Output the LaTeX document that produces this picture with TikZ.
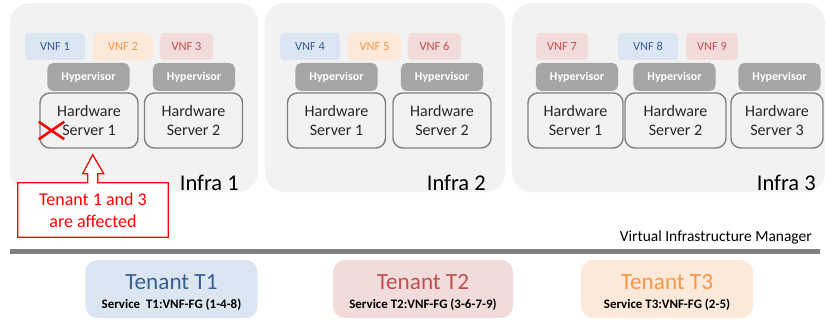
\documentclass[tikz,border=0pt]{standalone}
\usepackage{fontspec}
\setmainfont{Carlito}
\usetikzlibrary{shapes,arrows,backgrounds}
\definecolor{infragray}{HTML}{F2F2F2}
\definecolor{hypgray}{HTML}{A6A6A6}
\definecolor{hwborder}{HTML}{7F7F7F}
\definecolor{blueFill}{HTML}{DCE6F2}
\definecolor{blueText}{HTML}{376092}
\definecolor{redFill}{HTML}{F2DCDB}
\definecolor{redText}{HTML}{C0504D}
\definecolor{orangeFill}{HTML}{FDE9D9}
\definecolor{orangeText}{HTML}{F79646}
\tikzstyle{infra} = [rectangle, fill=infragray, rounded corners=0.5cm,
minimum height=4.725cm, inner sep=0pt]
\tikzstyle{infralabel} = [anchor=base east, inner sep=0pt, font=\fontsize{16}{19}\selectfont]
\tikzstyle{vnf} = [rectangle, rounded corners=3pt, minimum width=1.5cm,
minimum height=0.675cm, inner sep=0pt, font=\fontsize{8.8}{10}\selectfont]
\tikzstyle{tone1} = [fill=blueFill, text=blueText]
\tikzstyle{tone2} = [fill=redFill, text=redText]
\tikzstyle{tone3} = [fill=orangeFill, text=orangeText]
\tikzstyle{hyp} = [rectangle, fill=hypgray, text=white, rounded corners=4pt,
minimum width=2.05cm, minimum height=0.7cm, inner sep=0pt,
font=\fontsize{8.5}{10}\selectfont\bfseries]
\tikzstyle{hw} = [rectangle, draw=hwborder, line width=1pt, fill=infragray,
rounded corners=7pt, minimum width=2.45cm, minimum height=1.375cm,
inner sep=0pt, align=center, text=black!85, font=\fontsize{11.4}{14.2}\selectfont]
\tikzstyle{tenant} = [rectangle, rounded corners=0.3cm, minimum width=4.3cm,
minimum height=1.45cm, inner sep=0pt]
\tikzstyle{tenantname} = [inner sep=0pt, font=\fontsize{16.5}{19}\selectfont]
\tikzstyle{service} = [inner sep=0pt, font=\fontsize{9.2}{11}\selectfont\bfseries]
\tikzstyle{alert} = [draw=red, line width=0.9pt, fill=white]

\begin{document}
\begin{tikzpicture}[x=0.025cm,y=-0.025cm]
\useasboundingbox (0,0) rectangle (825,320);
\begin{scope}[on background layer]
 \node [infra, minimum width=6.2cm] (infra1) at (134,97.5) {};
 \node [infra, minimum width=6cm] (infra2) at (385,97.5) {};
 \node [infra, minimum width=7.825cm] (infra3) at (668.5,97.5) {};
\end{scope}
 \node [infralabel] (lab1) at (239,191) {Infra 1};
 \node [infralabel] (lab2) at (486,191) {Infra 2};
 \node [infralabel] (lab3) at (816,191) {Infra 3};
% virtual network functions
 \node [vnf,tone1] (vnf1) at (55,46.5) {VNF 1};
 \node [vnf,tone3] (vnf2) at (123,46.5) {VNF 2};
 \node [vnf,tone2,minimum width=1.325cm] (vnf3) at (186.5,46.5) {VNF 3};
 \node [vnf,tone1] (vnf4) at (310,46.5) {VNF 4};
 \node [vnf,tone3,minimum width=1.325cm] (vnf5) at (374.5,46.5) {VNF 5};
 \node [vnf,tone2,minimum width=1.325cm] (vnf6) at (434.5,46.5) {VNF 6};
 \node [vnf,tone2,minimum width=1.3cm] (vnf7) at (562,46.5) {VNF 7};
 \node [vnf,tone1] (vnf8) at (648,46.5) {VNF 8};
 \node [vnf,tone2,minimum width=1.3cm] (vnf9) at (712,46.5) {VNF 9};
% hypervisors
 \node [hyp] (hyp11) at (88.5,77) {Hypervisor};
 \node [hyp] (hyp12) at (194,77) {Hypervisor};
 \node [hyp] (hyp21) at (336.5,77) {Hypervisor};
 \node [hyp] (hyp22) at (442,77) {Hypervisor};
 \node [hyp] (hyp31) at (577,77) {Hypervisor};
 \node [hyp] (hyp32) at (674.5,77) {Hypervisor};
 \node [hyp] (hyp33) at (779.5,77) {Hypervisor};
% hardware servers
 \node [hw] (hw11) at (89,120.5) {Hardware\\Server 1};
 \node [hw] (hw12) at (193.5,120.5) {Hardware\\Server 2};
 \node [hw] (hw21) at (336.5,120.5) {Hardware\\Server 1};
 \node [hw] (hw22) at (442,120.5) {Hardware\\Server 2};
 \node [hw,minimum width=2.375cm] (hw31) at (575.5,120.5) {Hardware\\Server 1};
 \node [hw,minimum width=2.525cm] (hw32) at (675.5,120.5) {Hardware\\Server 2};
 \node [hw,minimum width=2.3cm] (hw33) at (777,120.5) {Hardware\\Server 3};
 \node [cross out, draw=red, line width=1.8pt, minimum width=0.575cm,
 minimum height=0.375cm, inner sep=0pt] (fail) at (51.5,130.5) {};
% failure callout
 \node [align=center, text=red, minimum width=3.75cm, minimum height=1.35cm,
 inner sep=0pt, font=\fontsize{12.8}{15.6}\selectfont] (affected) at (93,210)
 {Tenant 1 and 3\\are affected};
\begin{scope}[on background layer]
 \draw [alert] (affected.north west) -- ++(70,0) -- ++(0,-9) -- ++(-5,0)
 -- ++(10,-19) -- ++(11,19) -- ++(-6,0) -- ++(0,9) -- (affected.north east)
 -- (affected.south east) -- (affected.south west) -- cycle;
\end{scope}
% virtual infrastructure manager
 \node [anchor=east, inner sep=0pt, font=\fontsize{11}{13}\selectfont] (vim) at (812,237)
 {Virtual Infrastructure Manager};
 \coordinate (vimL) at (10,251.5);
 \coordinate (vimR) at (820,251.5);
 \draw [line width=3.6pt, color=hwborder] (vimL) -- (vimR);
% tenants
 \node [tenant, fill=blueFill] (t1) at (171.5,289) {};
 \node [tenant, fill=redFill, minimum width=4.5cm] (t2) at (423,289) {};
 \node [tenant, fill=orangeFill] (t3) at (667,289) {};
 \node [tenantname, text=blueText] (t1name) at (171.5,282) {Tenant T1};
 \node [tenantname, text=redText] (t2name) at (423,282) {Tenant T2};
 \node [tenantname, text=orangeText] (t3name) at (667,282) {Tenant T3};
 \node [service] (t1svc) at (171.5,305) {Service~ T1:VNF-FG (1-4-8)};
 \node [service] (t2svc) at (423,305) {Service T2:VNF-FG (3-6-7-9)};
 \node [service] (t3svc) at (667,305) {Service T3:VNF-FG (2-5)};
\end{tikzpicture}
\end{document}
